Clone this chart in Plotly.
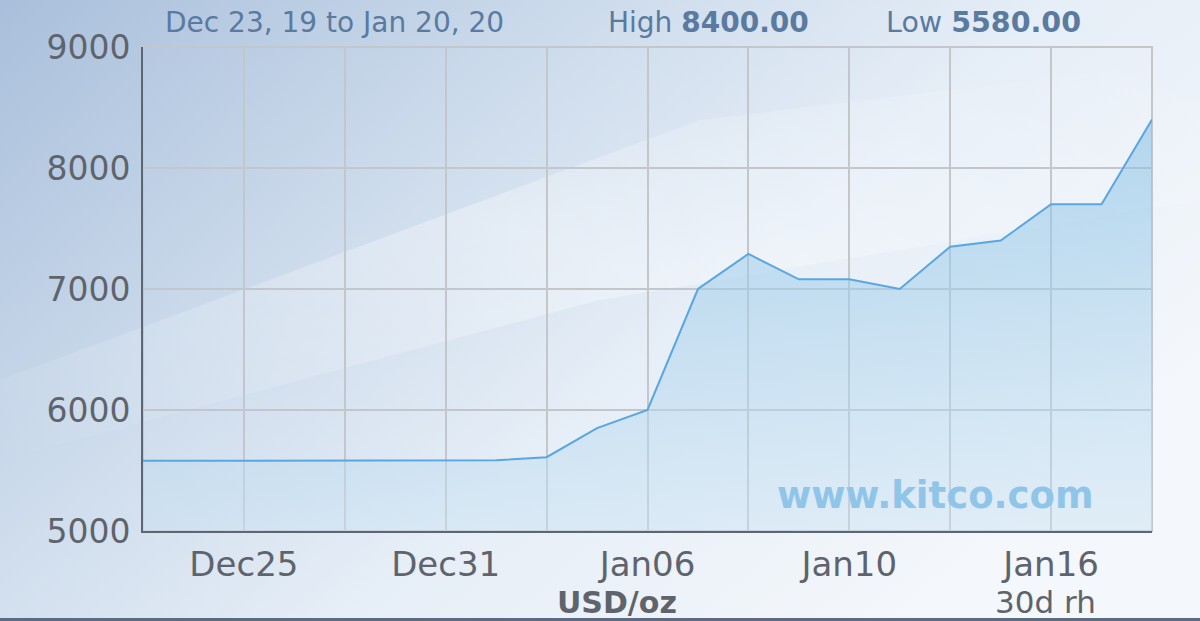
import base64
import plotly.graph_objects as go

# ---- data ----
dates = ["Dec23", "Dec24", "Dec25", "Dec26", "Dec27", "Dec30", "Dec31",
         "Jan01", "Jan02", "Jan03", "Jan06", "Jan07", "Jan08", "Jan09",
         "Jan10", "Jan13", "Jan14", "Jan15", "Jan16", "Jan17", "Jan20"]
prices = [5580, 5580, 5580, 5580, 5580, 5580, 5580,
          5585, 5610, 5850, 6000, 7000, 7290, 7080,
          7080, 7000, 7350, 7400, 7700, 7700, 8400]
grid_dates = dates[::2]
tick_text = ["", "Dec25", "", "Dec31", "", "Jan06", "", "Jan10", "", "Jan16", ""]
y_ticks = [5000, 6000, 7000, 8000, 9000]
title_range = "Dec 23, 19 to Jan 20, 20"
high_val = "8400.00"
low_val = "5580.00"

W, H = 1200, 621
ML, MR, MT, MB = 143, 48, 47, 90
PW, PH = W - ML - MR, H - MT - MB

FONT = "DejaVu Sans, Verdana, sans-serif"
GREY = "#5f646c"
TITLE_C = "#5a7aa0"

svg = f'''<svg xmlns="http://www.w3.org/2000/svg" width="{W}" height="{H}" viewBox="0 0 {W} {H}">
<defs>
<linearGradient id="g" x1="0" y1="0" x2="1" y2="0.6">
<stop offset="0" stop-color="#a9bfdb"/>
<stop offset="0.35" stop-color="#cbdaeb"/>
<stop offset="0.65" stop-color="#e6eef7"/>
<stop offset="1" stop-color="#f4f7fb"/>
</linearGradient>
<linearGradient id="s" x1="0" y1="1" x2="1" y2="0">
<stop offset="0" stop-color="#ffffff" stop-opacity="0"/>
<stop offset="0.5" stop-color="#ffffff" stop-opacity="0.35"/>
<stop offset="1" stop-color="#ffffff" stop-opacity="0"/>
</linearGradient>
</defs>
<rect width="{W}" height="{H}" fill="url(#g)"/>
<polygon points="0,380 700,120 1200,60 1200,200 600,300 0,460" fill="url(#s)"/>
</svg>'''
src = "data:image/svg+xml;base64," + base64.b64encode(svg.encode()).decode()

fig = go.Figure()
fig.add_trace(go.Scatter(
    x=dates, y=prices, mode="lines",
    line=dict(color="#5aa6e0", width=2),
    fill="tozeroy",
    fillgradient=dict(type="vertical", start=5000, stop=8400,
                      colorscale=[[0, "rgba(200,225,242,0.45)"],
                                  [1, "rgba(130,190,228,0.55)"]]),
    hoverinfo="skip",
))

TOP_Y = 1 + (MT - 22) / PH
BOT_Y = -(602 - (H - MB)) / PH

fig.update_layout(
    width=W, height=H,
    margin=dict(l=ML, r=MR, t=MT, b=MB),
    paper_bgcolor="#e6eef7",
    plot_bgcolor="rgba(0,0,0,0)",
    showlegend=False,
    images=[dict(source=src, xref="paper", yref="paper",
                 x=-ML / PW, y=1 + MT / PH, sizex=W / PW, sizey=H / PH,
                 xanchor="left", yanchor="top", sizing="stretch", layer="below")],
    xaxis=dict(type="category", range=[0, len(dates) - 1],
               tickvals=grid_dates, ticktext=tick_text,
               showgrid=True, gridcolor="#c3c7cc", gridwidth=1.5,
               showline=True, linecolor="#5d6672", linewidth=2,
               ticks="outside", ticklen=2, tickcolor="rgba(0,0,0,0)",
               tickfont=dict(family=FONT, size=34, color=GREY),
               zeroline=False, fixedrange=True),
    yaxis=dict(range=[5000, 9000], tickvals=y_ticks,
               showgrid=True, gridcolor="#c3c7cc", gridwidth=1.5,
               showline=True, linecolor="#5d6672", linewidth=2,
               ticks="outside", ticklen=4, tickcolor="rgba(0,0,0,0)",
               tickfont=dict(family=FONT, size=33, color=GREY),
               zeroline=False, fixedrange=True),
    shapes=[
        dict(type="rect", xref="paper", yref="paper", x0=0, x1=1, y0=0, y1=1,
             line=dict(color="#c3c7cc", width=2), layer="below"),
        dict(type="rect", xref="paper", yref="paper",
             x0=-ML / PW, x1=1 + MR / PW, y0=-MB / PH, y1=-MB / PH + 3 / PH,
             line=dict(width=0), fillcolor="#5b6b82"),
    ],
    annotations=[
        dict(text=title_range, xref="paper", yref="paper",
             x=(334 - ML) / PW, y=TOP_Y, xanchor="center", yanchor="middle",
             showarrow=False, font=dict(family=FONT, size=28, color=TITLE_C)),
        dict(text=f"High <b>{high_val}</b>", xref="paper", yref="paper",
             x=(708 - ML) / PW, y=TOP_Y, xanchor="center", yanchor="middle",
             showarrow=False, font=dict(family=FONT, size=28, color=TITLE_C)),
        dict(text=f"Low <b>{low_val}</b>", xref="paper", yref="paper",
             x=(983 - ML) / PW, y=TOP_Y, xanchor="center", yanchor="middle",
             showarrow=False, font=dict(family=FONT, size=28.5, color=TITLE_C)),
        dict(text="www.kitco.com", xref="paper", yref="paper",
             x=(935 - ML) / PW, y=(H - MB - 495) / PH, xanchor="center", yanchor="middle",
             showarrow=False,
             font=dict(family="DejaVu Sans, Verdana, sans-serif", size=37,
                       color="#8fc5e9", weight="bold")),
        dict(text="<b>USD/oz</b>", xref="paper", yref="paper",
             x=(617 - ML) / PW, y=BOT_Y, xanchor="center", yanchor="middle",
             showarrow=False, font=dict(family=FONT, size=30, color=GREY)),
        dict(text="30d rh", xref="paper", yref="paper",
             x=(1045 - ML) / PW, y=BOT_Y, xanchor="center", yanchor="middle",
             showarrow=False, font=dict(family=FONT, size=31, color=GREY)),
    ],
)

fig.write_html("out.html", config={"displayModeBar": False},
               post_script="document.body.style.margin='0';document.body.style.overflow='hidden';")
